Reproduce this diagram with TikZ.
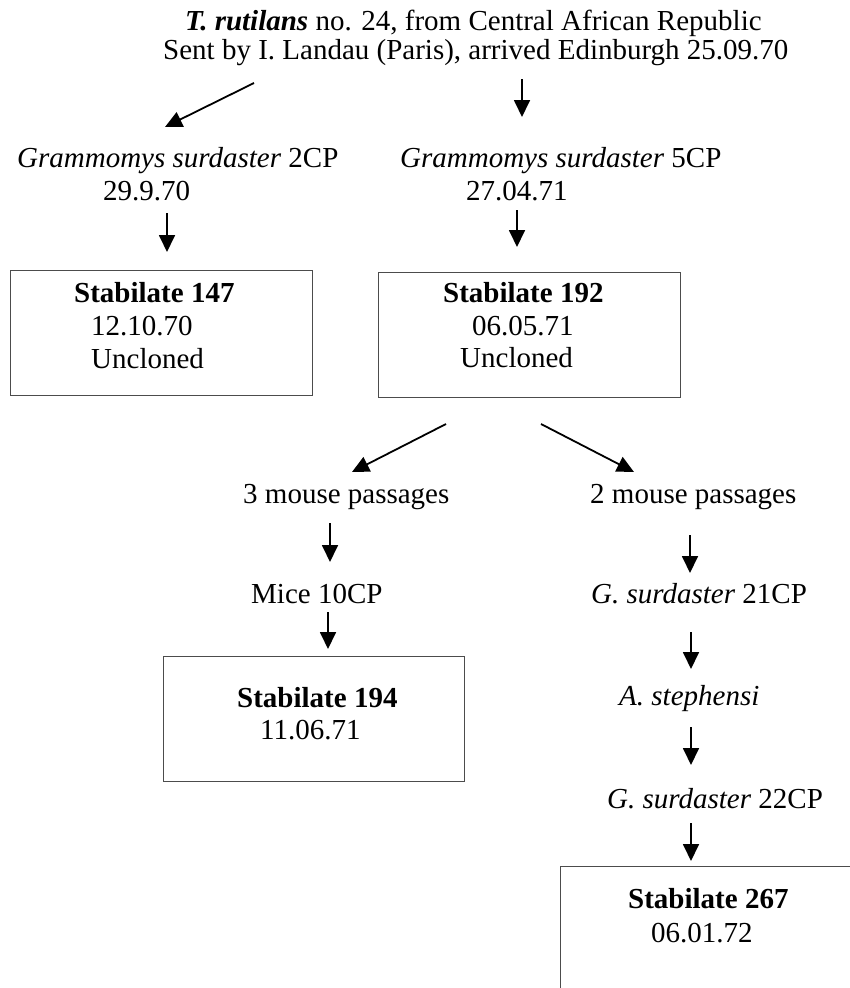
\documentclass[tikz,border=0pt]{standalone}
\usepackage{fontspec}
\setmainfont{Liberation Serif}
\usetikzlibrary{arrows.meta}
\begin{document}
\begin{tikzpicture}[x=1pt,y=-1pt,
  lbl/.style={anchor=base west,inner sep=0pt,font=\fontsize{29}{33}\selectfont},
  arr/.style={line width=1.8pt,-{Triangle[width=16pt,length=17pt]}},
  boxe/.style={draw=black!70,line width=1.3pt,inner sep=0pt,anchor=north west}]
\useasboundingbox (0,0) rectangle (850,988);
\clip (0,0) rectangle (850,988);
% title
\node[lbl] (t1) at (185,30) {\textbf{\textit{T. rutilans}} no. 24, from Central African Republic};
\node[lbl] (t2) at (163,59) {Sent by I. Landau (Paris), arrived Edinburgh 25.09.70};
% second row
\node[lbl] (g2) at (17,167) {\textit{Grammomys surdaster} 2CP};
\node[lbl] (d2) at (103,200) {29.9.70};
\node[lbl] (g5) at (400,167) {\textit{Grammomys surdaster} 5CP};
\node[lbl] (d5) at (466,200) {27.04.71};
% boxes
\node[boxe,minimum width=302pt,minimum height=125pt] (b147) at (10,270) {};
\node[lbl] (b147a) at (74,302) {\textbf{Stabilate 147}};
\node[lbl] (b147b) at (91,335) {12.10.70};
\node[lbl] (b147c) at (91,368) {Uncloned};
\node[boxe,minimum width=302pt,minimum height=125pt] (b192) at (378,272) {};
\node[lbl] (b192a) at (443,302) {\textbf{Stabilate 192}};
\node[lbl] (b192b) at (472,335) {06.05.71};
\node[lbl] (b192c) at (460,367) {Uncloned};
% passages
\node[lbl] (m3) at (243,503) {3 mouse passages};
\node[lbl] (m2) at (590,503) {2 mouse passages};
\node[lbl] (mice) at (251,603) {Mice 10CP};
\node[lbl] (gs21) at (591,603) {\textit{G. surdaster} 21CP};
\node[boxe,minimum width=301pt,minimum height=125pt] (b194) at (163,656) {};
\node[lbl] (b194a) at (237,707) {\textbf{Stabilate 194}};
\node[lbl] (b194b) at (260,739) {11.06.71};
\node[lbl] (as) at (619,705) {\textit{A. stephensi}};
\node[lbl] (gs22) at (607,808) {\textit{G. surdaster} 22CP};
\node[boxe,minimum width=400pt,minimum height=200pt] (b267) at (560,866) {};
\node[lbl] (b267a) at (628,908) {\textbf{Stabilate 267}};
\node[lbl] (b267b) at (651,942) {06.01.72};
% arrow end points
\coordinate (a1s) at (254,83);  \coordinate (a1e) at (165,127);
\coordinate (a2s) at (522,79);  \coordinate (a2e) at (522,117);
\coordinate (a3s) at (167,213); \coordinate (a3e) at (167,252);
\coordinate (a4s) at (517,210); \coordinate (a4e) at (517,247);
\coordinate (a5s) at (446,424); \coordinate (a5e) at (352,472);
\coordinate (a6s) at (541,424); \coordinate (a6e) at (634,472);
\coordinate (a7s) at (330,523); \coordinate (a7e) at (330,562);
\coordinate (a8s) at (328,612); \coordinate (a8e) at (328,649);
\coordinate (a9s) at (690,535); \coordinate (a9e) at (690,573);
\coordinate (a10s) at (691,632); \coordinate (a10e) at (691,669);
\coordinate (a11s) at (691,727); \coordinate (a11e) at (691,765);
\coordinate (a12s) at (691,823); \coordinate (a12e) at (691,861);
\draw[arr] (a1s) -- (a1e);
\draw[arr] (a2s) -- (a2e);
\draw[arr] (a3s) -- (a3e);
\draw[arr] (a4s) -- (a4e);
\draw[arr] (a5s) -- (a5e);
\draw[arr] (a6s) -- (a6e);
\draw[arr] (a7s) -- (a7e);
\draw[arr] (a8s) -- (a8e);
\draw[arr] (a9s) -- (a9e);
\draw[arr] (a10s) -- (a10e);
\draw[arr] (a11s) -- (a11e);
\draw[arr] (a12s) -- (a12e);
\end{tikzpicture}
\end{document}
